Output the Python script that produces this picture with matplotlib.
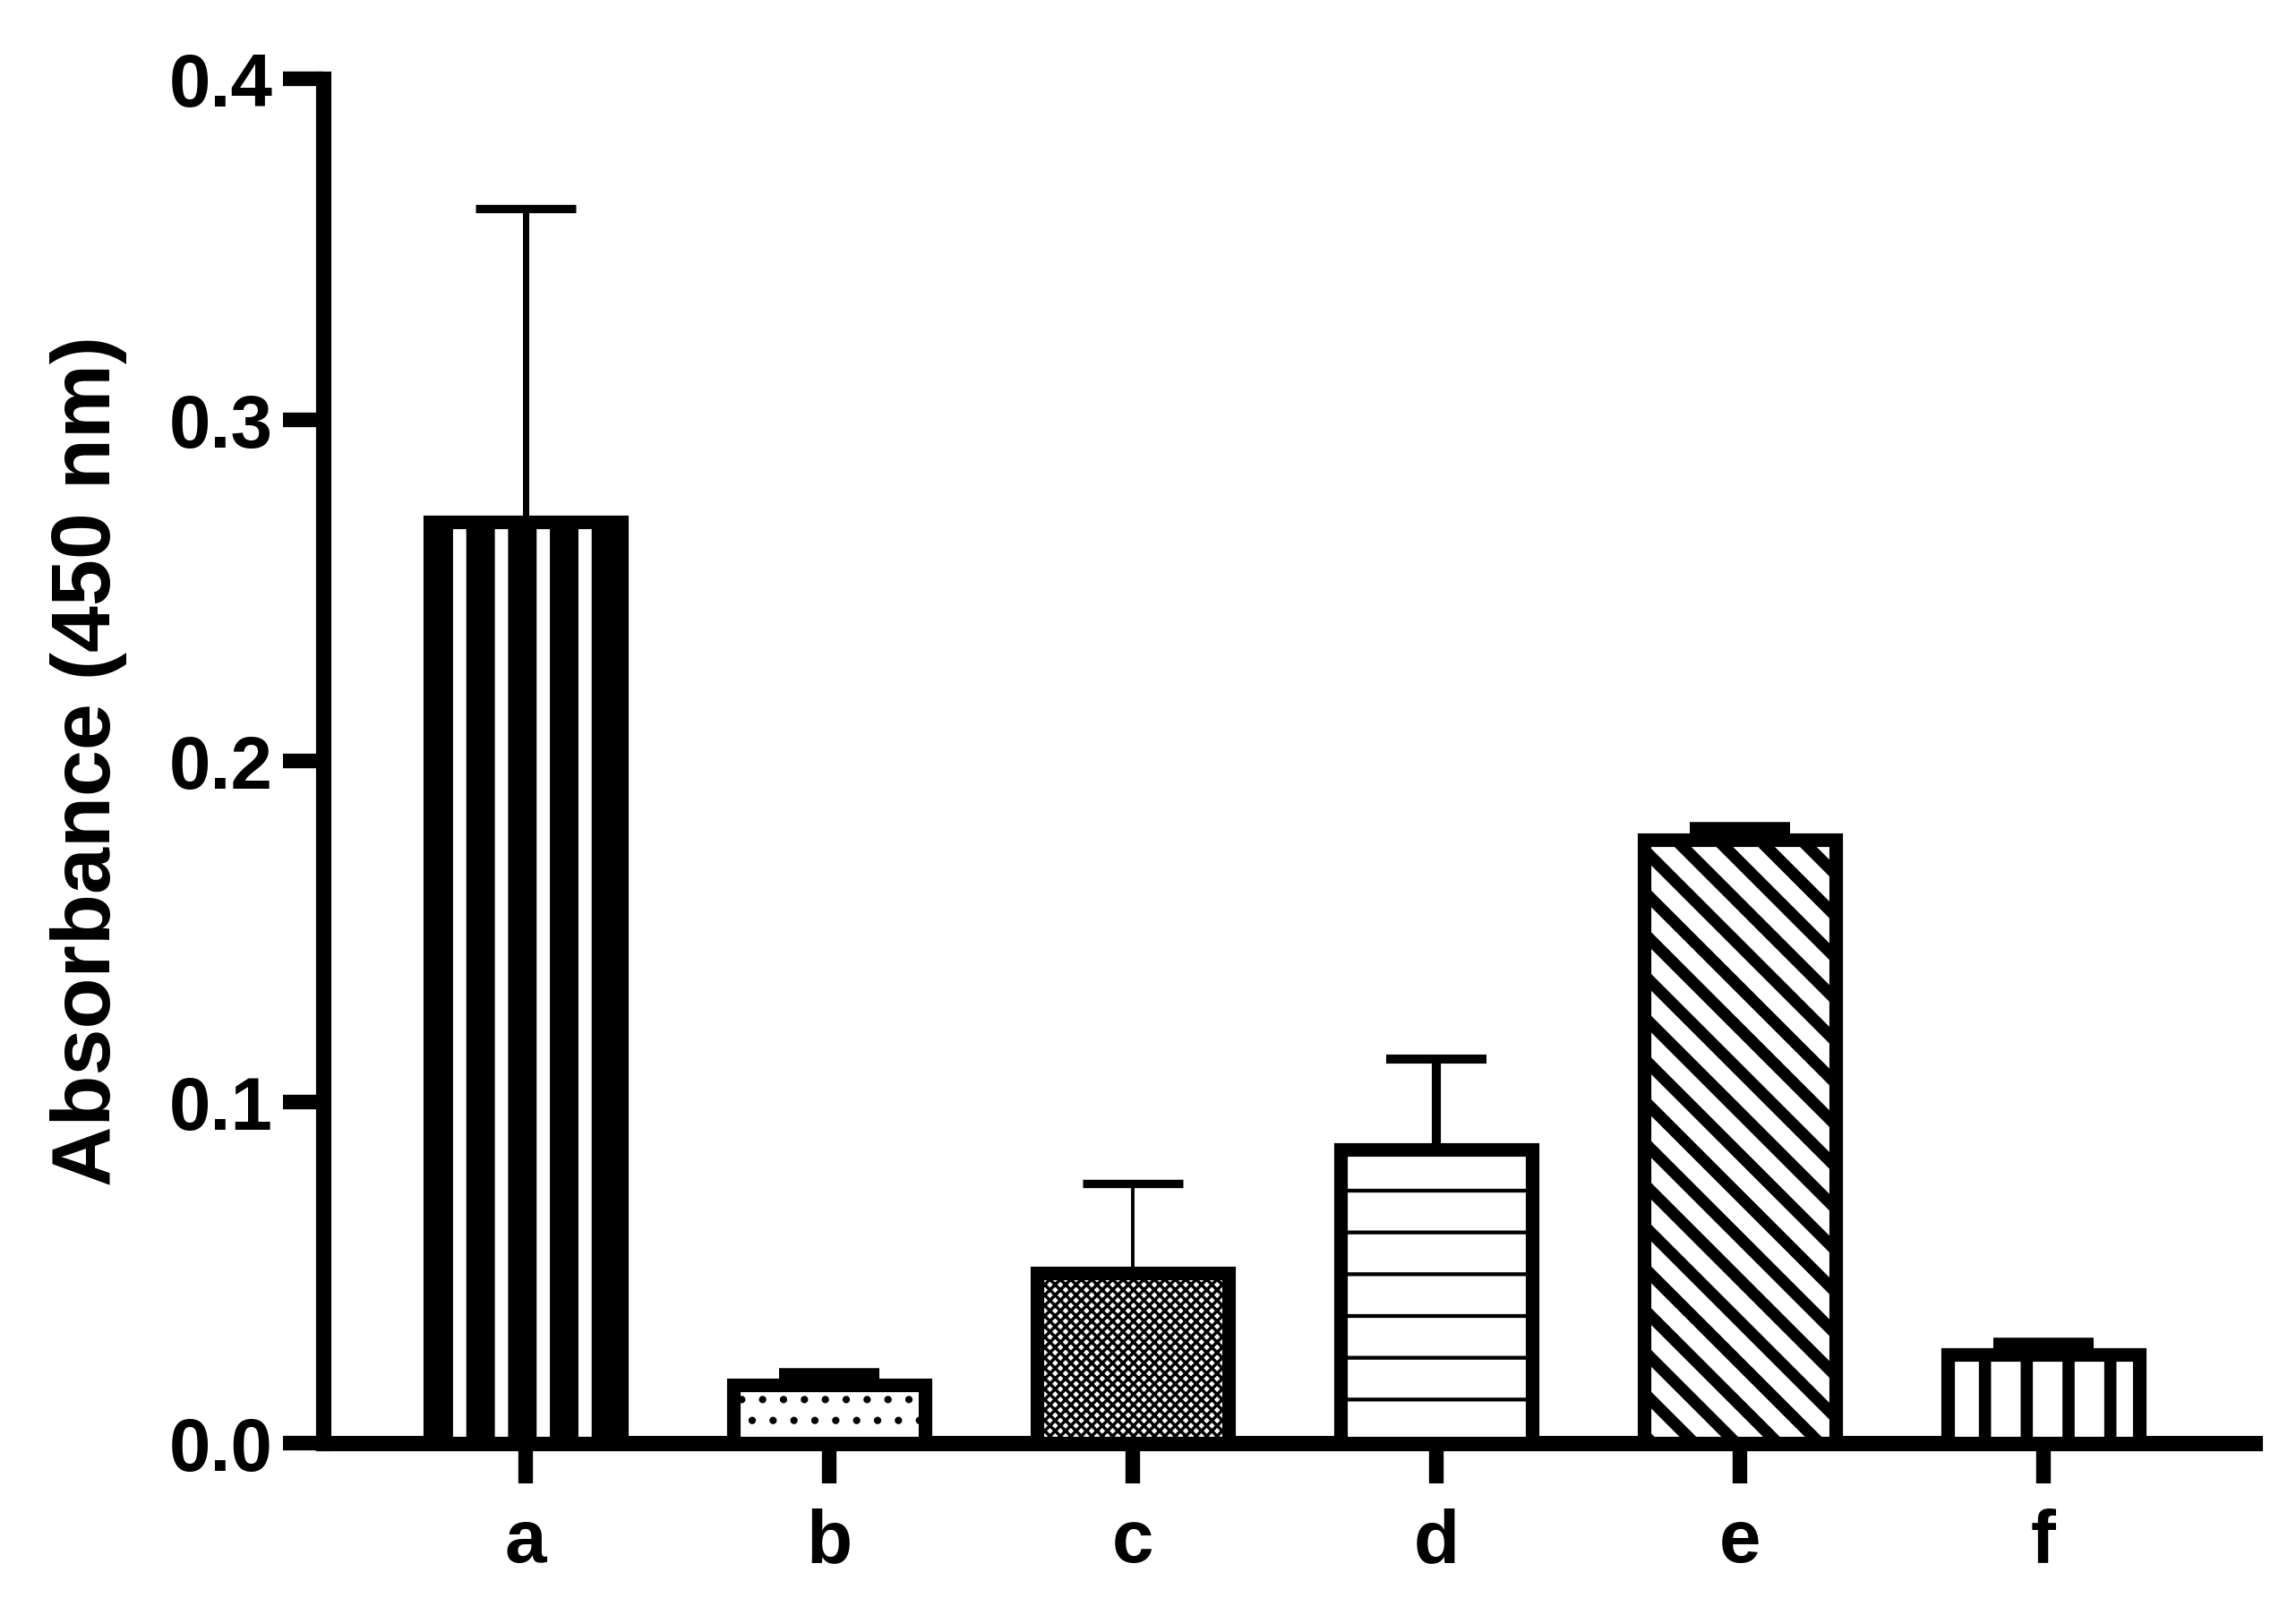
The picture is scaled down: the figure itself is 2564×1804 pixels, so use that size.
import matplotlib
matplotlib.use("Agg")
from matplotlib import pyplot as plt

groups = ["a", "b", "c", "d", "e", "f"]
means = [0.270, 0.017, 0.050, 0.086, 0.177, 0.026]
errors = [0.092, 0.003, 0.026, 0.0265, 0.003, 0.003]
hatches = ["|", "..", "xxxxxxxx", "-", "\\\\", "|"]
hatch_widths = [8.2, 0.9, 0.9, 1.1, 3.4, 3.5]
err_widths = [1.8, 4.0, 1.0, 2.6, 4.0, 4.0]

DPI = 280


def main():
    plt.rcParams["font.family"] = ["Liberation Sans", "DejaVu Sans"]
    plt.rcParams["font.weight"] = "bold"

    fig = plt.figure(figsize=(2564 / DPI, 1804 / DPI), dpi=DPI)
    ax = fig.add_axes([0.1408, 0.1064, 0.982 - 0.1408, 0.9512 - 0.1064])

    xs = list(range(len(groups)))
    for i, x in enumerate(xs):
        with plt.rc_context({"hatch.linewidth": hatch_widths[i]}):
            bars = ax.bar(x, means[i], width=0.63, color="white",
                          edgecolor="black", linewidth=3.9,
                          hatch=hatches[i], zorder=3)
        for p in bars:
            if hasattr(p, "set_hatch_linewidth"):
                p.set_hatch_linewidth(hatch_widths[i])
        ax.errorbar(x, means[i], yerr=[[0], [errors[i]]], fmt="none",
                    ecolor="black", elinewidth=err_widths[i],
                    capsize=14.5, capthick=max(err_widths[i], 2.4),
                    zorder=2)

    ax.set_xlim(-0.667, 5.696)
    ax.set_ylim(0, 0.4)
    ax.set_yticks([0.0, 0.1, 0.2, 0.3, 0.4])
    ax.set_yticklabels(["0.0", "0.1", "0.2", "0.3", "0.4"])
    ax.set_xticks(xs)
    ax.set_xticklabels(groups)

    for side in ["top", "right"]:
        ax.spines[side].set_visible(False)
    for side in ["left", "bottom"]:
        ax.spines[side].set_linewidth(4.4)
        ax.spines[side].set_capstyle("projecting")

    ax.tick_params(axis="both", width=4.2, length=11.5, labelsize=21.5)
    ax.tick_params(axis="y", pad=3)
    ax.tick_params(axis="x", pad=7)
    ax.set_ylabel("Absorbance (450 nm)", fontsize=24, fontweight="bold",
                  labelpad=12)

    fig.savefig("out.png", dpi=DPI, facecolor="white")


if __name__ == "__main__":
    main()
